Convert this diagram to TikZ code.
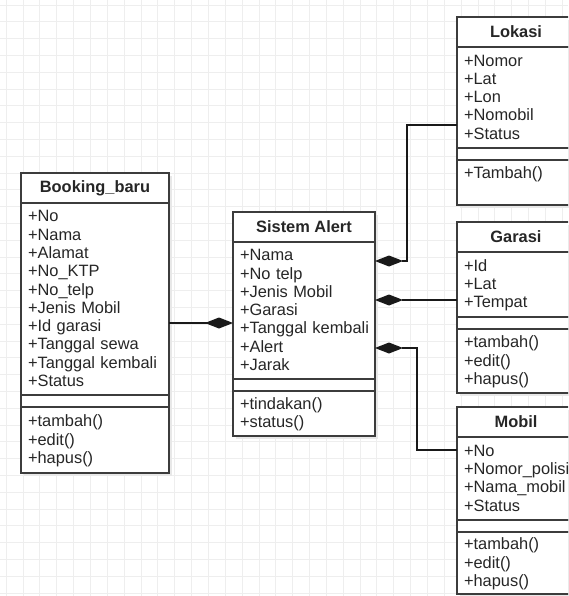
\documentclass[tikz,border=0pt]{standalone}
\usepackage{fontspec}
\setmainfont{Liberation Sans}
\usetikzlibrary{arrows.meta, positioning, backgrounds}
\definecolor{lineGray}{HTML}{3C3C3C}
\definecolor{textGray}{HTML}{262626}
\definecolor{gridGray}{HTML}{EEEEEE}
\hyphenpenalty=10000
\hbadness=10000
\hfuzz=20pt
\newcommand{\classFont}{\fontsize{16.4}{18.3}\selectfont}
\newcommand{\classStrut}{\rule[-4pt]{0pt}{18.3pt}}
\tikzset{
    classHead/.style={draw=lineGray, fill=white, line width=1.2pt, anchor=north west, inner sep=0pt, outer sep=0pt, minimum height=30, font=\classFont\bfseries, text=textGray},
    classPart/.style={draw=lineGray, fill=white, line width=1.2pt, inner xsep=7pt, inner ysep=0pt, outer sep=0pt, align=left, font=\classFont, text=textGray, execute at begin node=\classStrut, execute at end node=\classStrut},
    classGap/.style={draw=lineGray, fill=white, line width=1.2pt, inner sep=0pt, outer sep=0pt, minimum height=12},
    classShadow/.style={fill=black!9},
    gridLine/.style={draw=gridGray, line width=0.9pt},
    compLink/.style={-{Diamond[length=28pt, width=11pt]}, draw=black!90, line width=1.1pt},
}
\newcommand{\umlClass}[8]{
    \node[classHead, minimum width=#3] (#1) at (#2) {#4};
    \node[classPart, minimum width=#3, text width=#3-14pt, minimum height=#5, below=0pt of #1] (#1-attr) {#6};
    \node[classGap, minimum width=#3, below=0pt of #1-attr] (#1-gap) {};
    \node[classPart, minimum width=#3, text width=#3-14pt, minimum height=#7, below=0pt of #1-gap] (#1-meth) {#8};
    \begin{pgfonlayer}{background}
        \fill[classShadow] ([shift={(3,3)}]#1.north west) rectangle ([shift={(3,3)}]#1-meth.south east);
    \end{pgfonlayer}
}

\begin{document}
\begin{tikzpicture}[x=1pt, y=-1pt]
    \useasboundingbox (0,0) rectangle (568,596);
    \clip (0,0) rectangle (568,596);

    % grid paper
    \begin{pgfonlayer}{background}
        \fill[white] (0,0) rectangle (568,596);
        \foreach \gx in {0,...,33}
            \draw[gridLine] ({6.2+16.85*\gx},0) -- ({6.2+16.85*\gx},596);
        \foreach \gy in {0,...,35}
            \draw[gridLine] (0,{5+16.8*\gy}) -- (568,{5+16.8*\gy});
    \end{pgfonlayer}

    \umlClass{bb}{21,173}{148}{Booking\_baru}{192}{+No\\+Nama\\+Alamat\\+No\_KTP\\+No\_telp\\+Jenis~Mobil\\+Id~garasi\\+Tanggal~sewa\\+Tanggal~kembali\\+Status}{66}{+tambah()\\+edit()\\+hapus()}
    \umlClass{sa}{233,212}{142}{Sistem Alert}{137}{+Nama\\+No~telp\\+Jenis~Mobil\\+Garasi\\+Tanggal~kembali\\+Alert\\+Jarak}{45}{+tindakan()\\+status()}
    \umlClass{lok}{457,17}{118}{Lokasi}{101}{+Nomor\\+Lat\\+Lon\\+Nomobil\\+Status}{45}{+Tambah()\\{}}
    \umlClass{gar}{457,222}{118}{Garasi}{65}{+Id\\+Lat\\+Tempat}{64}{+tambah()\\+edit()\\+hapus()}
    \umlClass{mob}{457,407}{118}{Mobil}{83}{+No\\+Nomor\_polisi\\+Nama\_mobil\\+Status}{62}{+tambah()\\+edit()\\+hapus()}

    \draw[compLink] (bb-attr.east |- 0,323) -- (sa-attr.west |- 0,323);
    \draw[compLink] (lok-attr.west |- 0,125) -| (407,261) -- (sa-attr.east |- 0,261);
    \draw[compLink] (gar-attr.west |- 0,300) -- (sa-attr.east |- 0,300);
    \draw[compLink] (mob-attr.west |- 0,450) -| (417,348) -- (sa-attr.east |- 0,348);

\end{tikzpicture}
\end{document}
